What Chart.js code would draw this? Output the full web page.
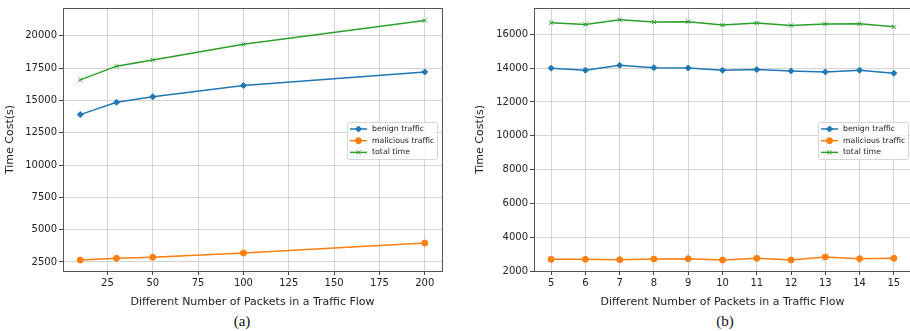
<!DOCTYPE html>
<html>
<head>
<meta charset="utf-8">
<script src="https://cdn.jsdelivr.net/npm/chart.js@4"></script>
<style>
body{margin:0;background:#fff;}
#wrap{position:relative;width:910px;height:331px;overflow:hidden;}
canvas{position:absolute;top:0;}
.cap{position:absolute;top:312px;font-family:"Liberation Serif","DejaVu Serif",serif;font-size:15px;line-height:18px;color:#111;transform:translateX(-50%);}
</style>
</head>
<body>
<div id="wrap">
<canvas id="chartA" width="455" height="310" style="left:0"></canvas>
<canvas id="chartB" width="461" height="310" style="left:455px"></canvas>
<div class="cap" style="left:242px">(a)</div>
<div class="cap" style="left:725px">(b)</div>
</div>
<script>
// (a) packets per flow, larger range
let sizeA = [10, 30, 50, 100, 200];
let benignA = [13900, 14850, 15280, 16150, 17200];
let maliciousA = [2650, 2790, 2860, 3190, 3960];
let totalA = [16590, 17650, 18130, 19340, 21180];
let xTicksA = [25, 50, 75, 100, 125, 150, 175, 200];
let yTicksA = [2500, 5000, 7500, 10000, 12500, 15000, 17500, 20000];

// (b) packets per flow 5..15
let sizeB = [5, 6, 7, 8, 9, 10, 11, 12, 13, 14, 15];
let benignB = [14000, 13880, 14170, 14030, 14010, 13880, 13920, 13840, 13780, 13880, 13700];
let maliciousB = [2690, 2690, 2670, 2710, 2730, 2650, 2750, 2650, 2830, 2730, 2750];
let totalB = [16690, 16590, 16860, 16730, 16750, 16550, 16670, 16530, 16610, 16630, 16450];
let xTicksB = [5, 6, 7, 8, 9, 10, 11, 12, 13, 14, 15];
let yTicksB = [2000, 4000, 6000, 8000, 10000, 12000, 14000, 16000];

let seriesNames = ['benign traffic', 'malicious traffic', 'total time'];
let colors = ['#1f77b4', '#ff7f0e', '#2ca02c'];
let markers = ['rectRot', 'circle', 'crossRot'];

let tickFont = {family: 'DejaVu Sans', size: 10};
let titleFont = {family: 'DejaVu Sans', size: 11};

function pts(xs, ys){
  return xs.map(function(x, i){ return {x: x, y: ys[i]}; });
}

function makeSets(xs, lists){
  return lists.map(function(ys, i){
    return {
      label: seriesNames[i],
      data: pts(xs, ys),
      borderColor: colors[i],
      backgroundColor: colors[i],
      borderWidth: 1.5,
      pointStyle: markers[i],
      pointRadius: 3,
      pointBorderWidth: 1,
      tension: 0
    };
  });
}

// box round the plot area, like matplotlib spines
const framePlugin = {
  id: 'frame',
  afterDatasetsDraw(chart){
    const a = chart.chartArea, c = chart.ctx;
    c.save();
    c.strokeStyle = '#555';
    c.lineWidth = 1;
    c.strokeRect(Math.round(a.left) + 0.5, Math.round(a.top) + 0.5, Math.round(a.right - a.left), Math.round(a.bottom - a.top));
    c.restore();
  }
};

// matplotlib style legend, center right
const mplLegend = {
  id: 'mplLegend',
  afterDraw(chart, args, opts){
    const a = chart.chartArea, c = chart.ctx;
    const w = 90, h = 37, gap = opts.gap || 5;
    const x0 = a.right - gap - w;
    const y0 = (a.top + a.bottom) / 2 - h / 2 + 1;
    c.save();
    c.fillStyle = 'rgba(255,255,255,0.8)';
    c.strokeStyle = '#d6d6d6';
    c.lineWidth = 1;
    c.beginPath();
    c.roundRect(x0 + 0.5, y0 + 0.5, w, h, 2);
    c.fill();
    c.stroke();
    c.font = '7.8px "DejaVu Sans"';
    c.textBaseline = 'middle';
    chart.data.datasets.forEach(function(ds, i){
      const y = y0 + 7 + i * 11.7;
      c.strokeStyle = ds.borderColor;
      c.lineWidth = 1.5;
      c.beginPath();
      c.moveTo(x0 + 3, y);
      c.lineTo(x0 + 20, y);
      c.stroke();
      c.fillStyle = ds.backgroundColor;
      c.lineWidth = 1;
      Chart.helpers.drawPoint(c, {pointStyle: ds.pointStyle, radius: 3, rotation: 0, borderWidth: 1}, x0 + 11.5, y);
      c.fillStyle = '#222';
      c.fillText(ds.label, x0 + 25, y);
    });
    c.restore();
  }
};

function makeChart(id, xs, lists, xr, yr, xTicks, yTicks, yWidth, yTitlePad, legendGap, padRight){
  return new Chart(document.getElementById(id), {
    type: 'line',
    data: {datasets: makeSets(xs, lists)},
    plugins: [framePlugin, mplLegend],
    options: {
      responsive: false,
      animation: false,
      devicePixelRatio: 1,
      layout: {padding: {top: 6, right: padRight, left: 0, bottom: 0}},
      plugins: {
        legend: {display: false},
        tooltip: {enabled: false},
        mplLegend: {gap: legendGap}
      },
      scales: {
        x: {
          type: 'linear',
          min: xr[0], max: xr[1],
          afterBuildTicks: function(s){ s.ticks = xTicks.map(function(v){ return {value: v}; }); },
          afterFit: function(s){ s.height = 39; s.paddingLeft = 0; s.paddingRight = 0; },
          grid: {color: '#d4d4d4', lineWidth: 1, tickLength: 4, tickColor: '#444'},
          border: {display: false},
          ticks: {font: tickFont, color: '#222', padding: 2, maxRotation: 0, autoSkip: false},
          title: {display: true, text: 'Different Number of Packets in a Traffic Flow', font: titleFont, color: '#222', padding: {top: 0, bottom: 1}}
        },
        y: {
          min: yr[0], max: yr[1],
          afterBuildTicks: function(s){ s.ticks = yTicks.map(function(v){ return {value: v}; }); },
          afterFit: function(s){ s.width = yWidth; },
          grid: {color: '#d4d4d4', lineWidth: 1, tickLength: 4, tickColor: '#444'},
          border: {display: false},
          ticks: {font: tickFont, color: '#222', padding: 2, autoSkip: false, callback: function(v){ return String(v); }},
          title: {display: true, text: 'Time Cost(s)', font: titleFont, color: '#222', padding: {top: yTitlePad, bottom: 0}}
        }
      }
    }
  });
}

makeChart('chartA', sizeA, [benignA, maliciousA, totalA], [0.5, 209.5], [1800, 22150], xTicksA, yTicksA, 63, 4, 5, 13);
makeChart('chartB', sizeB, [benignB, maliciousB, totalB], [4.5, 15.5], [2000, 17560], xTicksB, yTicksB, 79, 19, 3, 0);
</script>
</body>
</html>
